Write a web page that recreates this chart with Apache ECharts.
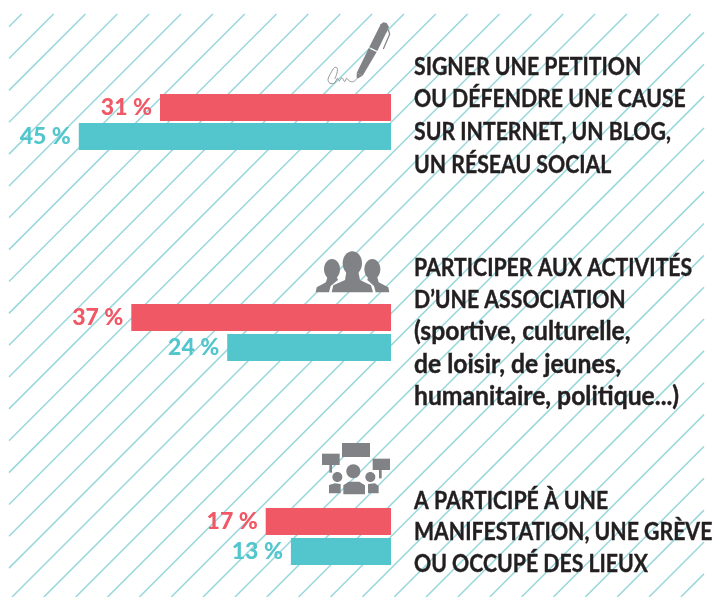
<!DOCTYPE html>
<html>
<head>
<meta charset="utf-8">
<style>
  html, body { margin: 0; padding: 0; background: #fff; }
  #chart { width: 716px; height: 597px; }
</style>
<script src="https://cdn.jsdelivr.net/npm/echarts@6/dist/echarts.min.js"></script>
</head>
<body>
<div id="chart"></div>
<script>
// printed percentages, per group (red, teal)
var printedLabels = [["31 %", "45 %"], ["37 %", "24 %"], ["17 %", "13 %"]];
// bar lengths (the original is not drawn to scale with its labels)
var barValues1 = [33.0, 44.6];
var barValues2 = [37.1, 23.4];
var barValues3 = [17.9, 14.3];
var categories = ["rouge", "bleu"];
var captions = [
  ["SIGNER UNE PETITION", "OU DÉFENDRE UNE CAUSE", "SUR INTERNET, UN BLOG,", "UN RÉSEAU SOCIAL"],
  ["PARTICIPER AUX ACTIVITÉS", "D’UNE ASSOCIATION", "(sportive, culturelle,", "de loisir, de jeunes,", "humanitaire, politique...)"],
  ["A PARTICIPÉ À UNE", "MANIFESTATION, UNE GRÈVE", "OU OCCUPÉ DES LIEUX"]
];
var captionTops = [55, 256, 489];
var captionSteps = [32.7, 32.5, 31.5];
var gridTops = [93, 302.5, 506.5];
var gridHeights = [58, 60, 60];

var colors = ["#f15866", "#53c6cd"];
var iconColor = "#808285";
var hatchColor = "#98d7dc";
var fontName = "Lato, 'Liberation Sans', sans-serif";

var chart = echarts.init(document.getElementById("chart"));

// fond hachuré, clippé sur la zone 9..704 / 14..597
function hatchLines() {
  var x0 = 9, x1 = 704, y0 = 14, y1 = 597, out = [];
  for (var c = 35.7; c < x1 + y1; c += 31.85) {
    var ax = Math.max(x0, c - y1), bx = Math.min(x1, c - y0);
    if (bx <= ax) continue;
    out.push({
      type: "line", silent: true, z: 0,
      shape: { x1: ax, y1: c - ax, x2: bx, y2: c - bx },
      style: { stroke: hatchColor, lineWidth: 1.5 }
    });
  }
  return out;
}

// helpers: icon coordinates are given in zoom space (3x with an offset)
function poly(pts, ox, oy, fill) {
  return {
    type: "polygon", silent: true, z: 3,
    shape: { points: pts.map(function (p) { return [ox + p[0] / 3, oy + p[1] / 3]; }) },
    style: { fill: fill || iconColor }
  };
}
function dot(cx, cy, rx, ry, ox, oy) {
  return {
    type: "ellipse", silent: true, z: 3,
    shape: { cx: ox + cx / 3, cy: oy + cy / 3, rx: rx / 3, ry: ry / 3 },
    style: { fill: iconColor }
  };
}
function box(x1, y1, x2, y2, ox, oy) {
  return poly([[x1, y1], [x2, y1], [x2, y2], [x1, y2]], ox, oy);
}

function penIcon() {
  var ox = 320, oy = 15;
  var sign = [[110, 192], [100, 200], [88, 198], [80, 190], [74, 200], [66, 188], [58, 198], [52, 190], [44, 204], [30, 205], [24, 194], [32, 175], [44, 157], [52, 160], [50, 178], [44, 192]];
  return [
    poly([[182, 28], [190, 22], [200, 24], [207, 36], [172, 108], [148, 96]], ox, oy),
    poly([[146, 100], [170, 111], [128, 182], [110, 174]], ox, oy),
    poly([[110, 174], [128, 182], [110, 192]], ox, oy),
    {
      type: "polyline", silent: true, z: 3,
      shape: { points: [[205, 44], [209, 58], [190, 102]].map(function (p) { return [ox + p[0] / 3, oy + p[1] / 3]; }) },
      style: { stroke: iconColor, lineWidth: 1.2, fill: "none" }
    },
    {
      type: "polyline", silent: true, z: 3,
      shape: { smooth: 0.3, points: sign.map(function (p) { return [ox + p[0] / 3, oy + p[1] / 3]; }) },
      style: { stroke: "#939598", lineWidth: 1, fill: "none" }
    }
  ];
}

function peopleIcon() {
  var ox = 300, oy = 230;
  return [
    dot(96, 118, 24, 31, ox, oy),
    dot(217, 118, 24, 31, ox, oy),
    poly([[47, 187], [50, 172], [78, 157], [84, 135], [108, 135], [114, 150], [92, 168], [87, 187]], ox, oy),
    poly([[268, 187], [265, 172], [236, 157], [230, 135], [206, 135], [202, 150], [222, 168], [227, 187]], ox, oy),
    dot(157, 100, 29, 36, ox, oy),
    poly([[95, 187], [100, 166], [135, 150], [140, 120], [174, 120], [180, 150], [213, 166], [219, 187]], ox, oy)
  ];
}

function protestIcon() {
  var ox = 300, oy = 430;
  return [
    box(126, 39, 210, 81, ox, oy),
    box(66, 71, 119, 105, ox, oy),
    box(88, 105, 96, 128, ox, oy),
    box(218, 86, 270, 120, ox, oy),
    box(237, 120, 245, 145, ox, oy),
    dot(160, 124, 21, 21, ox, oy),
    dot(112, 141, 15, 15, ox, oy),
    dot(211, 141, 15, 15, ox, oy),
    poly([[130, 193], [130, 166], [146, 155], [178, 155], [195, 166], [195, 193]], ox, oy),
    poly([[87, 190], [87, 165], [105, 160], [122, 162], [122, 190]], ox, oy),
    poly([[204, 162], [225, 160], [236, 168], [236, 190], [204, 190]], ox, oy)
  ];
}

// une ligne = un texte : capitales resserrées, bas de casse un peu plus grand
function captionTexts() {
  var out = [];
  captions.forEach(function (lines, i) {
    lines.forEach(function (line, j) {
      var upper = line === line.toUpperCase();
      out.push({
        type: "text", silent: true, z: 5,
        x: 414,
        y: captionTops[i] + j * captionSteps[i] - (upper ? 0 : 2),
        scaleX: upper ? 0.885 : 0.95,
        style: {
          text: line,
          font: "bold " + (upper ? 24 : 26) + "px " + fontName,
          fill: "#231f20",
          stroke: "#231f20",
          lineWidth: 0.4
        }
      });
    });
  });
  return out;
}

function makeSeries(values, idx) {
  return {
    type: "bar",
    xAxisIndex: idx,
    yAxisIndex: idx,
    barWidth: 27,
    silent: true,
    data: values.map(function (v, j) {
      return {
        value: v,
        itemStyle: { color: colors[j] },
        label: {
          show: true,
          position: "left",
          distance: 8,
          formatter: printedLabels[idx][j],
          color: colors[j],
          fontFamily: fontName,
          fontWeight: 900,
          fontSize: 23
        }
      };
    })
  };
}

var allValues = [barValues1, barValues2, barValues3];

chart.setOption({
  animation: false,
  backgroundColor: "#fff",
  graphic: hatchLines().concat(penIcon(), peopleIcon(), protestIcon(), captionTexts()),
  grid: gridTops.map(function (t, i) {
    return { left: 41, width: 350, top: t, height: gridHeights[i] };
  }),
  xAxis: allValues.map(function (v, i) {
    return { type: "value", gridIndex: i, inverse: true, min: 0, max: 50, show: false };
  }),
  yAxis: allValues.map(function (v, i) {
    return { type: "category", gridIndex: i, inverse: true, data: categories, show: false };
  }),
  series: allValues.map(makeSeries)
});
</script>
</body>
</html>
